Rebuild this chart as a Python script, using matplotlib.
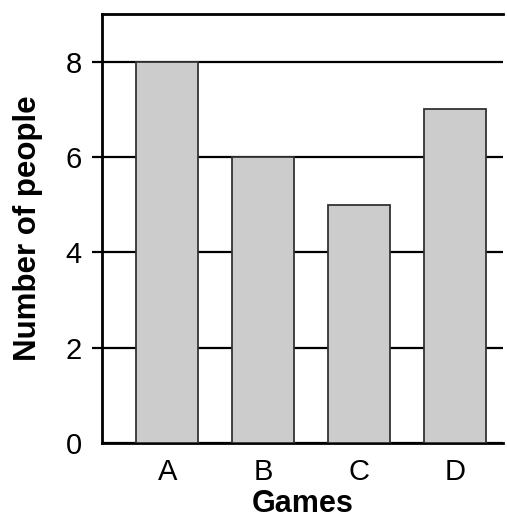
import matplotlib.pyplot as plt

plt.rcParams['font.family'] = ['Liberation Sans', 'DejaVu Sans']

games = ['A', 'B', 'C', 'D']
people = [8, 6, 5, 7]
yticks = [0, 2, 4, 6, 8]

fig = plt.figure(figsize=(5.07, 5.24), dpi=100)
ax = fig.add_axes([0.201, 0.1546, 0.791, 0.8184])

ax.bar(range(len(games)), people, width=0.646, color='#cccccc',
       edgecolor='#333333', linewidth=1.3, zorder=3)

ax.set_xlim(-0.68, 3.5)
ax.set_ylim(0, 9)
ax.set_yticks(yticks)
ax.set_xticks(range(len(games)))
ax.set_xticklabels(games)
ax.yaxis.grid(True, color='black', linewidth=1.6, zorder=0)
ax.set_axisbelow(True)

ax.spines['right'].set_visible(False)
for s in ['left', 'top', 'bottom']:
    ax.spines[s].set_linewidth(2)
ax.tick_params(axis='y', length=7, width=1.6, labelsize=21, pad=7.5)
ax.tick_params(axis='x', length=0, labelsize=21, pad=11)
ax.yaxis.get_major_ticks()[0].tick1line.set_visible(False)

ax.set_xlabel('Games', fontsize=22, fontweight='bold', labelpad=2)
ax.set_ylabel('Number of people', fontsize=22.5, fontweight='bold', labelpad=16)

fig.savefig('out.png', dpi=100)
